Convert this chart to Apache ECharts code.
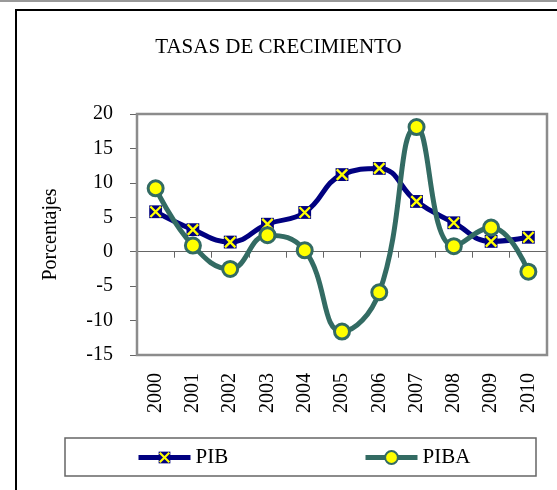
<!DOCTYPE html>
<html>
<head>
<meta charset="utf-8">
<script src="https://cdn.jsdelivr.net/npm/echarts@6/dist/echarts.min.js"></script>
<style>
  html, body { margin: 0; padding: 0; background: #fff; }
  #chartDiv { width: 557px; height: 490px; }
</style>
</head>
<body>
<div id="chartDiv"></div>
<script>
// Data
const years = ['2000', '2001', '2002', '2003', '2004', '2005', '2006', '2007', '2008', '2009', '2010'];
const pib = [5.8, 3.2, 1.4, 4.0, 5.7, 11.2, 12.1, 7.3, 4.2, 1.5, 2.1];
const piba = [9.2, 0.9, -2.5, 2.4, 0.2, -11.6, -5.9, 18.1, 0.8, 3.5, -2.9];
const yTicks = { min: -15, max: 20, interval: 5 };

const FONT = '"Liberation Serif", "DejaVu Serif", serif';
const NAVY = '#000080';
const TEAL = '#336b63';

// square marker with yellow cross
const pibSvg = '<svg xmlns="http://www.w3.org/2000/svg" width="24" height="24" viewBox="0 0 24 24">' +
    '<rect x="1" y="1" width="22" height="22" fill="#000080"/>' +
    '<path d="M3 3 L21 21 M21 3 L3 21" stroke="#ffff00" stroke-width="4"/></svg>';
const pibSymbol = 'image://data:image/svg+xml;charset=utf-8,' + encodeURIComponent(pibSvg);

function renderChart() {
    const chartDom = document.getElementById('chartDiv');
    const myChart = echarts.init(chartDom, null, { renderer: 'canvas' });

    const legendBase = {
        top: 447,
        padding: 0,
        itemWidth: 52,
        itemHeight: 16,
        itemGap: 8,
        lineStyle: { width: 5 },
        textStyle: { fontFamily: FONT, fontSize: 21, color: '#000' }
    };

    const option = {
        backgroundColor: '#fff',
        animation: false,
        title: {
            text: 'TASAS DE CRECIMIENTO',
            left: 'center',
            top: 32,
            textStyle: { fontFamily: FONT, fontWeight: 'normal', fontSize: 21, color: '#000' }
        },
        legend: [
            Object.assign({}, legendBase, { data: ['PIB'], left: 136 }),
            Object.assign({}, legendBase, { data: ['PIBA'], left: 363 })
        ],
        graphic: [
            { type: 'line', shape: { x1: 0, y1: 1, x2: 557, y2: 1 }, style: { stroke: '#999', lineWidth: 2 } },
            { type: 'polyline', shape: { points: [[16, 492], [16, 10], [560, 10]] }, style: { stroke: '#000', lineWidth: 2, fill: null } },
            { type: 'rect', shape: { x: 65, y: 438, width: 471, height: 38 }, style: { stroke: '#666', lineWidth: 1.5, fill: null } },
            { type: 'rect', shape: { x: 137, y: 114, width: 410, height: 241 }, style: { stroke: '#8c8c8c', lineWidth: 2.5, fill: null }, z: 10 }
        ],
        grid: { left: 137, right: 10, top: 114, bottom: 135 },
        xAxis: [
            {
                type: 'category',
                data: years,
                boundaryGap: true,
                axisLine: { onZero: true, lineStyle: { color: '#666', width: 1 } },
                axisTick: { show: true, length: 6, inside: false, lineStyle: { color: '#666' } },
                axisLabel: { show: false },
                splitLine: { show: false }
            },
            {
                type: 'category',
                data: years,
                position: 'bottom',
                boundaryGap: true,
                axisLine: { show: false, onZero: false },
                axisTick: { show: false },
                axisLabel: {
                    rotate: 90,
                    margin: 18,
                    fontFamily: FONT,
                    fontSize: 20,
                    color: '#000'
                }
            }
        ],
        yAxis: {
            type: 'value',
            min: yTicks.min,
            max: yTicks.max,
            interval: yTicks.interval,
            name: 'Porcentajes',
            nameLocation: 'middle',
            nameGap: 76,
            nameTextStyle: { fontFamily: FONT, fontSize: 20, color: '#000' },
            axisLine: { show: true, lineStyle: { color: '#666' } },
            axisTick: { show: true, length: 7, lineStyle: { color: '#666' } },
            axisLabel: { margin: 24, fontFamily: FONT, fontSize: 20, color: '#000' },
            splitLine: { show: false }
        },
        series: [
            {
                name: 'PIB',
                type: 'line',
                data: pib,
                smooth: 0.45,
                symbol: pibSymbol,
                symbolSize: 14,
                itemStyle: { color: NAVY },
                lineStyle: { width: 5, color: NAVY },
                z: 3
            },
            {
                name: 'PIBA',
                type: 'line',
                data: piba,
                smooth: 0.45,
                symbol: 'circle',
                symbolSize: 15,
                itemStyle: { color: '#ffff00', borderColor: TEAL, borderWidth: 3 },
                lineStyle: { width: 5, color: TEAL },
                z: 4
            }
        ]
    };

    myChart.setOption(option);
}

renderChart();
</script>
</body>
</html>
